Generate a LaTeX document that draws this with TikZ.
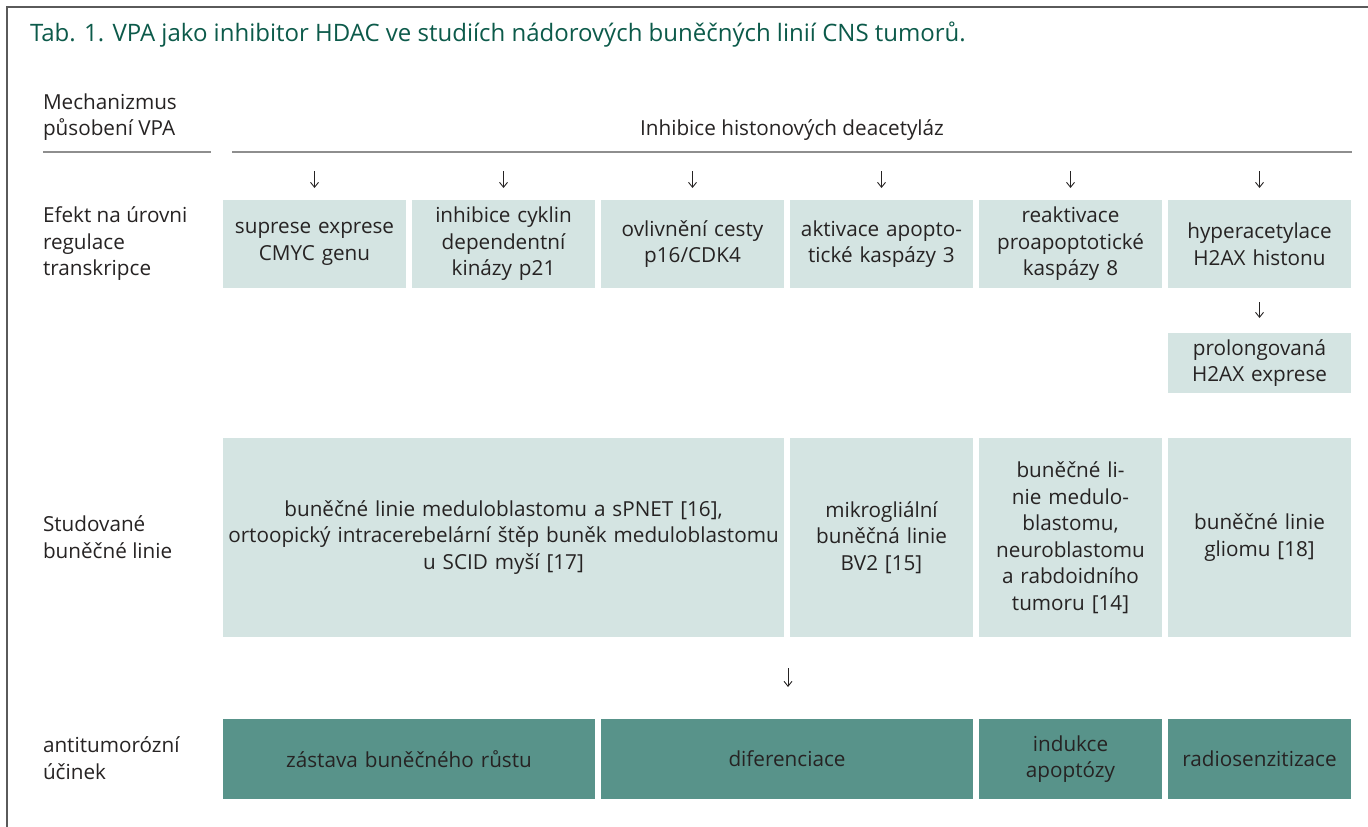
\documentclass[tikz,border=0pt]{standalone}
\usepackage{fontspec}
\setmainfont{Open Sans}
\usetikzlibrary{arrows.meta}
\definecolor{light}{HTML}{D4E4E2}
\definecolor{dark}{HTML}{58938A}
\definecolor{titlec}{HTML}{0C5A4A}
\definecolor{txt}{HTML}{262323}
\definecolor{frame}{HTML}{5A5A5A}
\definecolor{rule}{HTML}{8E8E8E}
\begin{document}
\begin{tikzpicture}[x=1pt,y=-1pt,
  every node/.style={inner sep=0pt,outer sep=0pt,text=txt,font=\fontsize{20.7}{26.5}\selectfont},
  lbox/.style={fill=light,align=center,minimum width=183,text width=180},
  dbox/.style={fill=dark,align=center,minimum width=183,text width=180},
  rowlab/.style={anchor=west,align=left},
  arr/.style={draw=txt,line width=0.9pt,-{Straight Barb[length=5pt,width=8pt,line width=0.9pt]}}
]
\useasboundingbox (0,0) rectangle (1368,827);
% frame
\draw[frame,line width=2pt] (7,827) -- (7,7) -- (1368,7);
% title
\node[anchor=base west,text=titlec,font=\fontsize{24}{28}\selectfont] (title) at (30,41)
  {Tab. 1. VPA jako inhibitor HDAC ve studiích nádorových buněčných linií CNS tumorů.};
% row labels
\node[rowlab] (l0) at (43,117) {Mechanizmus\\působení VPA};
\node[rowlab] (l1) at (43,244) {Efekt na úrovni\\regulace\\transkripce};
\node[rowlab] (l2) at (43,537) {Studované\\buněčné linie};
\node[rowlab] (l3) at (43,758) {antitumorózní\\účinek};
\coordinate (u0a) at (43,152);
\coordinate (u0b) at (211,152);
\draw[rule,line width=1.2pt] (u0a) -- (u0b);
% header
\node (hdr) at (792,130) {Inhibice histonových deacetyláz};
\coordinate (u1a) at (232,152);
\coordinate (u1b) at (1352,152);
\draw[rule,line width=1.2pt] (u1a) -- (u1b);
% row 1
\node[lbox,minimum height=88] (b1) at (314.5,244) {suprese exprese\\CMYC genu};
\node[lbox,minimum height=88] (b2) at (503.5,244) {inhibice cyklin\\dependentní\\kinázy p21};
\node[lbox,minimum height=88] (b3) at (692.5,244) {ovlivnění cesty\\p16/CDK4};
\node[lbox,minimum height=88] (b4) at (881.5,244) {aktivace apopto-\\tické kaspázy 3};
\node[lbox,minimum height=88] (b5) at (1070.5,244) {reaktivace\\proapoptotické\\kaspázy 8};
\node[lbox,minimum height=88] (b6) at (1259.5,244) {hyperacetylace\\H2AX histonu};
% row 1b
\node[lbox,minimum height=60] (b7) at (1259.5,363) {prolongovaná\\H2AX exprese};
% row 3
\node[lbox,minimum width=561,text width=558,minimum height=199] (c1) at (503.5,537.5)
  {buněčné linie meduloblastomu a sPNET [16],\\ortoopický intracerebelární štěp buněk meduloblastomu\\u SCID myší [17]};
\node[lbox,minimum height=199] (c2) at (881.5,537.5) {mikrogliální\\buněčná linie\\BV2 [15]};
\node[lbox,minimum height=199] (c3) at (1070.5,537.5) {buněčné li-\\nie medulo-\\blastomu,\\neuroblastomu\\a rabdoidního\\tumoru [14]};
\node[lbox,minimum height=199] (c4) at (1259.5,537.5) {buněčné linie\\gliomu [18]};
% row 4
\node[dbox,minimum width=372,text width=360,minimum height=80] (d1) at (409,759) {zástava buněčného růstu};
\node[dbox,minimum width=372,text width=360,minimum height=80] (d2) at (787,759) {diferenciace};
\node[dbox,minimum height=80] (d3) at (1070.5,759) {indukce\\apoptózy};
\node[dbox,minimum height=80] (d4) at (1259.5,759) {radiosenzitizace};
% arrows
\foreach \b in {b1,b2,b3,b4,b5,b6}{
  \coordinate (\b t) at ([yshift=29pt]\b.north);
  \coordinate (\b h) at ([yshift=12pt]\b.north);
  \draw[arr] (\b t) -- (\b h);
}
\draw[arr] ([yshift=-14pt]b6.south) -- ([yshift=15pt]b7.north);
\coordinate (mt) at (788,668);
\coordinate (mh) at (788,687);
\draw[arr] (mt) -- (mh);
\end{tikzpicture}
\end{document}
